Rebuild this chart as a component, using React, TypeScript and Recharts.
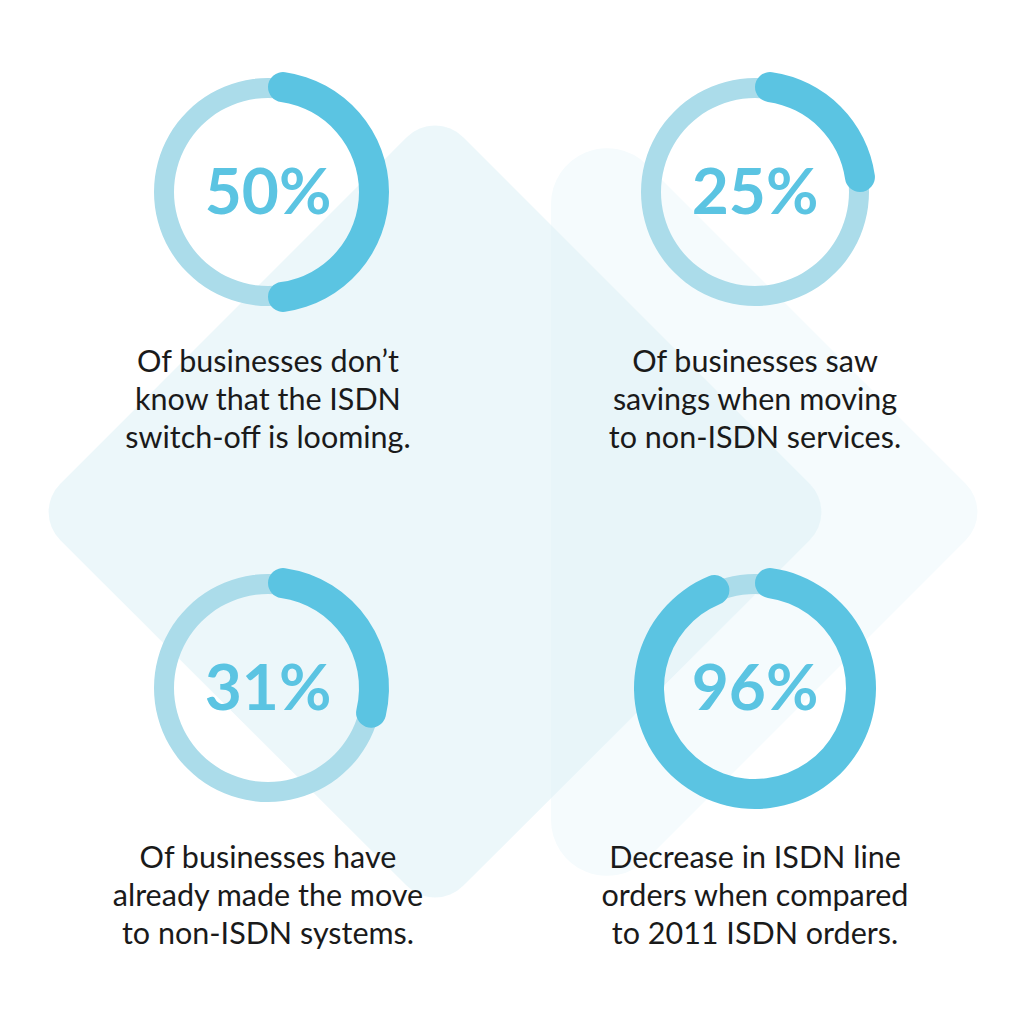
import React from 'react';
import { PieChart, Pie, Cell } from 'recharts';

// stat values (percent) and their captions
const percentValues = [50, 25, 31, 96];
const captionLines = [
    ['Of businesses don’t', 'know that the ISDN', 'switch-off is looming.'],
    ['Of businesses saw', 'savings when moving', 'to non-ISDN services.'],
    ['Of businesses have', 'already made the move', 'to non-ISDN systems.'],
    ['Decrease in ISDN line', 'orders when compared', 'to 2011 ISDN orders.'],
];

const DARK = '#5BC4E2';
const LIGHT = '#ABDCEA';
const CENTERS = [[268, 192], [755, 192], [268, 688], [755, 688]];

// polygon with rounded corners, points given clockwise as [x, y, radius]
function roundedPath(pts: number[][]) {
    const n = pts.length;
    let d = '';
    for (let i = 0; i < n; i++) {
        const [x, y, r] = pts[i];
        const [px, py] = pts[(i - 1 + n) % n];
        const [nx, ny] = pts[(i + 1) % n];
        const l1 = Math.hypot(px - x, py - y);
        const l2 = Math.hypot(nx - x, ny - y);
        const u1 = [(px - x) / l1, (py - y) / l1];
        const u2 = [(nx - x) / l2, (ny - y) / l2];
        const ang = Math.acos(u1[0] * u2[0] + u1[1] * u2[1]);
        const t = r / Math.tan(ang / 2);
        const a = [x + u1[0] * t, y + u1[1] * t];
        const b = [x + u2[0] * t, y + u2[1] * t];
        d += `${i === 0 ? 'M' : 'L'}${a[0]} ${a[1]} A ${r} ${r} 0 0 1 ${b[0]} ${b[1]} `;
    }
    return d + 'Z';
}

function Backdrop() {
    const tri = roundedPath([[551, 69, 56], [994, 512, 40], [551, 955, 56]]);
    const diamond = roundedPath([[435, 109, 40], [838, 512, 40], [435, 914, 40], [32, 512, 40]]);
    return (
        <svg width={1024} height={1024} style={{ position: 'absolute', left: 0, top: 0 }}>
            <path d={tri} fill="#F5FBFD" />
            <path d={diamond} fill="rgb(223,242,247)" fillOpacity={0.6} />
        </svg>
    );
}

export default function App() {
    return (
        <div style={{ position: 'absolute', left: 0, top: 0, width: 1024, height: 1024, background: '#fff', overflow: 'hidden' }}>
            <Backdrop />
            <div style={{ position: 'absolute', left: 0, top: 0 }}>
                <PieChart width={1024} height={1024} margin={{ top: 0, right: 0, bottom: 0, left: 0 }}>
                    {percentValues.map((v, i) => (
                        <Pie
                            key={`track-${i}`}
                            data={[{ name: 'track', value: 100 }]}
                            dataKey="value"
                            cx={CENTERS[i][0]}
                            cy={CENTERS[i][1]}
                            innerRadius={94}
                            outerRadius={114}
                            startAngle={90}
                            endAngle={-270}
                            stroke="none"
                            fill={LIGHT}
                            isAnimationActive={false}
                        />
                    ))}
                    {percentValues.map((v, i) => (
                        <Pie
                            key={`value-${i}`}
                            data={[{ name: 'value', value: v }, { name: 'rest', value: 100 - v }]}
                            dataKey="value"
                            cx={CENTERS[i][0]}
                            cy={CENTERS[i][1]}
                            innerRadius={91}
                            outerRadius={121}
                            startAngle={90}
                            endAngle={-270}
                            cornerRadius={15}
                            stroke="none"
                            isAnimationActive={false}
                        >
                            <Cell fill={DARK} />
                            <Cell fill="transparent" />
                        </Pie>
                    ))}
                </PieChart>
            </div>
            {percentValues.map((v, i) => (
                <div
                    key={`pct-${i}`}
                    style={{
                        position: 'absolute',
                        left: CENTERS[i][0] - 150,
                        top: CENTERS[i][1] - 34,
                        width: 300,
                        textAlign: 'center',
                        fontFamily: 'Lato, sans-serif',
                        fontWeight: 700,
                        fontSize: 64,
                        lineHeight: '64px',
                        color: DARK,
                    }}
                >
                    {`${v}%`}
                </div>
            ))}
            {captionLines.map((lines, i) => (
                <div
                    key={`cap-${i}`}
                    style={{
                        position: 'absolute',
                        left: CENTERS[i][0] - 200,
                        top: CENTERS[i][1] + 149,
                        width: 400,
                        textAlign: 'center',
                        fontFamily: 'Lato, sans-serif',
                        fontSize: 30.5,
                        lineHeight: '38px',
                        color: '#1a1a1a',
                    }}
                >
                    {lines.map((l) => <div key={l}>{l}</div>)}
                </div>
            ))}
        </div>
    );
}
